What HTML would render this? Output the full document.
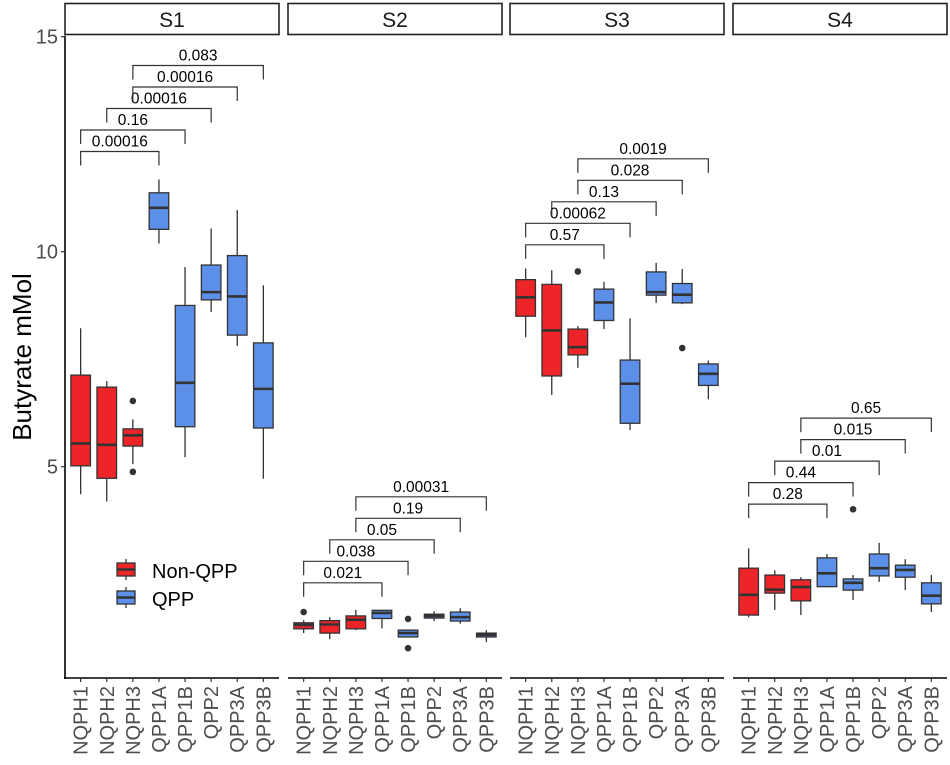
<!DOCTYPE html>
<html><head><meta charset="utf-8"><style>
html,body{margin:0;padding:0;background:#fff;}
svg{display:block;font-family:"Liberation Sans",Arial,sans-serif;}
</style></head><body>
<svg id="chart" width="950" height="765" viewBox="0 0 950 765" xmlns="http://www.w3.org/2000/svg">
<text transform="translate(31,357) rotate(-90)" text-anchor="middle" font-size="26" fill="#000">Butyrate mMol</text>
<g>
<g>
<line x1="126" y1="559" x2="126" y2="580" stroke="#333" stroke-width="1.3"/>
<rect x="117" y="563" width="18" height="13" fill="#ee2528" stroke="#333" stroke-width="1.3"/>
<line x1="117" y1="569.5" x2="135" y2="569.5" stroke="#333" stroke-width="2.5"/>
<text x="152" y="578" font-size="20" fill="#000">Non-QPP</text></g>
<g>
<line x1="126" y1="587" x2="126" y2="608" stroke="#333" stroke-width="1.3"/>
<rect x="117" y="591" width="18" height="13" fill="#5b8fe8" stroke="#333" stroke-width="1.3"/>
<line x1="117" y1="597.5" x2="135" y2="597.5" stroke="#333" stroke-width="2.5"/>
<text x="152" y="606" font-size="20" fill="#000">QPP</text></g>
</g>
</svg>
<script>
const panels = ['S1','S2','S3','S4'];
const categories = ['NQPH1','NQPH2','NQPH3','QPP1A','QPP1B','QPP2','QPP3A','QPP3B'];
const groups = ['Non-QPP','Non-QPP','Non-QPP','QPP','QPP','QPP','QPP','QPP'];
const yTicks = [5,10,15];
// [low whisker, Q1, median, Q3, high whisker] per panel per category
const statsS1 = [[4.36,5.02,5.54,7.13,8.22],[4.19,4.73,5.51,6.85,6.99],[5.06,5.48,5.73,5.88,6.10],[10.19,10.52,11.02,11.37,11.68],[5.22,5.93,6.95,8.75,9.64],[8.60,8.88,9.06,9.69,10.54],[7.81,8.06,8.96,9.91,10.97],[4.72,5.90,6.81,7.88,9.22]];
const statsS2 = [[1.13,1.23,1.32,1.37,1.43],[0.99,1.13,1.33,1.42,1.50],[1.20,1.23,1.44,1.53,1.67],[1.24,1.47,1.60,1.66,1.67],[1.04,1.04,1.13,1.20,1.20],[1.41,1.48,1.53,1.57,1.64],[1.35,1.41,1.50,1.62,1.71],[0.92,1.04,1.09,1.13,1.20]];
const statsS3 = [[8.01,8.50,8.94,9.35,9.61],[6.67,7.11,8.17,9.24,9.57],[7.30,7.60,7.78,8.20,8.27],[8.20,8.40,8.82,9.13,9.30],[5.85,6.01,6.93,7.48,8.45],[8.81,8.99,9.06,9.53,9.74],[8.78,8.81,9.00,9.26,9.60],[6.57,6.89,7.16,7.39,7.47]];
const statsS4 = [[1.50,1.55,2.02,2.64,3.10],[1.67,2.06,2.14,2.48,2.59],[1.55,1.88,2.20,2.37,2.43],[2.21,2.21,2.52,2.88,2.97],[1.90,2.13,2.30,2.39,2.48],[2.32,2.46,2.64,2.97,3.23],[2.13,2.43,2.60,2.71,2.85],[1.62,1.81,2.00,2.30,2.48]];
const allStats = [statsS1,statsS2,statsS3,statsS4];
// outliers: [categoryIndex, value]
const outliersS1 = [[2,6.53],[2,4.88]];
const outliersS2 = [[0,1.62],[4,1.46],[4,0.78]];
const outliersS3 = [[2,9.54],[6,7.76]];
const outliersS4 = [[4,4.01]];
const allOutliers = [outliersS1,outliersS2,outliersS3,outliersS4];
// comparison brackets: [from index, to index]
const pairs = [[0,3],[0,4],[1,5],[2,6],[2,7]];
const pvalsS1 = ['0.00016','0.16','0.00016','0.00016','0.083'];
const pvalsS2 = ['0.021','0.038','0.05','0.19','0.00031'];
const pvalsS3 = ['0.57','0.00062','0.13','0.028','0.0019'];
const pvalsS4 = ['0.28','0.44','0.01','0.015','0.65'];
const allPvals = [pvalsS1,pvalsS2,pvalsS3,pvalsS4];
const bracketBase = [12.33,2.30,10.16,4.13];
const bracketStep = 0.5;

const svg = document.getElementById('chart');
const NS = 'http://www.w3.org/2000/svg';
const plotTop = 36.7, plotBottom = 678, zeroY = 681.7, pxPerUnit = 43;
const panelX = [65,288,510,733], panelW = 214;
const fills = {'Non-QPP':'#ee2528','QPP':'#5b8fe8'};
function yScale(v){ return zeroY - v*pxPerUnit; }
function xScale(p,i){ const step = panelW/8.2; return panelX[p] + step*(0.6+i); }
function mk(tag, attrs, parent){ const e=document.createElementNS(NS,tag); for(const k in attrs) e.setAttribute(k,attrs[k]); (parent||svg).appendChild(e); return e; }

const yAxis = mk('g',{});


mk('line',{x1:65,y1:plotTop-1,x2:65,y2:plotBottom+1,stroke:'#000','stroke-width':1.6},yAxis);
yTicks.forEach(t=>{
  const y=yScale(t);
  mk('line',{x1:61,y1:y,x2:65,y2:y,stroke:'#333','stroke-width':1.2},yAxis);
  const tx=mk('text',{x:58,y:y+7,'text-anchor':'end','font-size':20,fill:'#4d4d4d'},yAxis);
  
  
  tx.textContent=t;
});

panels.forEach((pn,p)=>{
  const g = mk('g',{});
  
  
  const strip = mk('g',{},g);
  
  
  mk('rect',{x:panelX[p],y:3.5,width:panelW,height:31,fill:'#fff',stroke:'#222','stroke-width':1.6},strip);
  const st=mk('text',{x:panelX[p]+panelW/2,y:27,'text-anchor':'middle','font-size':21,fill:'#1a1a1a'},strip);
  st.textContent=pn;
  mk('line',{x1:panelX[p]-(p===0?1:0),y1:plotBottom,x2:panelX[p]+panelW,y2:plotBottom,stroke:'#000','stroke-width':1.6},g);
  const boxW = panelW/8.2*0.75;
  categories.forEach((c,i)=>{
    const x=xScale(p,i);
    mk('line',{x1:x,y1:plotBottom,x2:x,y2:plotBottom+4,stroke:'#333','stroke-width':1.2},g);
    const lab=mk('text',{transform:`translate(${x+7},${plotBottom+8}) rotate(-90)`,'text-anchor':'end','font-size':20,fill:'#4d4d4d'},g);
    
    
    lab.textContent=c;
    const s=allStats[p][i];
    const b=mk('g',{},g);
    
    
    mk('line',{x1:x,y1:yScale(s[4]),x2:x,y2:yScale(s[0]),stroke:'#333','stroke-width':1.3},b);
    mk('rect',{x:x-boxW/2,y:yScale(s[3]),width:boxW,height:Math.max(0.5,yScale(s[1])-yScale(s[3])),fill:fills[groups[i]],stroke:'#333','stroke-width':1.3},b);
    mk('line',{x1:x-boxW/2,y1:yScale(s[2]),x2:x+boxW/2,y2:yScale(s[2]),stroke:'#333','stroke-width':2.6},b);
  });
  allOutliers[p].forEach(o=>{
    const d=mk('circle',{cx:xScale(p,o[0]),cy:yScale(o[1]),r:3.3,fill:'#333'},g);
    
    
  });
  pairs.forEach((pr,k)=>{
    const yv=bracketBase[p]+bracketStep*k, y=yScale(yv);
    const x1=xScale(p,pr[0]), x2=xScale(p,pr[1]);
    const br=mk('g',{},g);
    
    
    mk('path',{d:`M${x1},${y+14}V${y}H${x2}V${y+14}`,fill:'none',stroke:'#333','stroke-width':1.2},br);
    const t=mk('text',{x:(x1+x2)/2,y:y-5,'text-anchor':'middle','font-size':15.5,fill:'#000'},br);
    t.textContent=allPvals[p][k];
  });
});
</script>
</body></html>
